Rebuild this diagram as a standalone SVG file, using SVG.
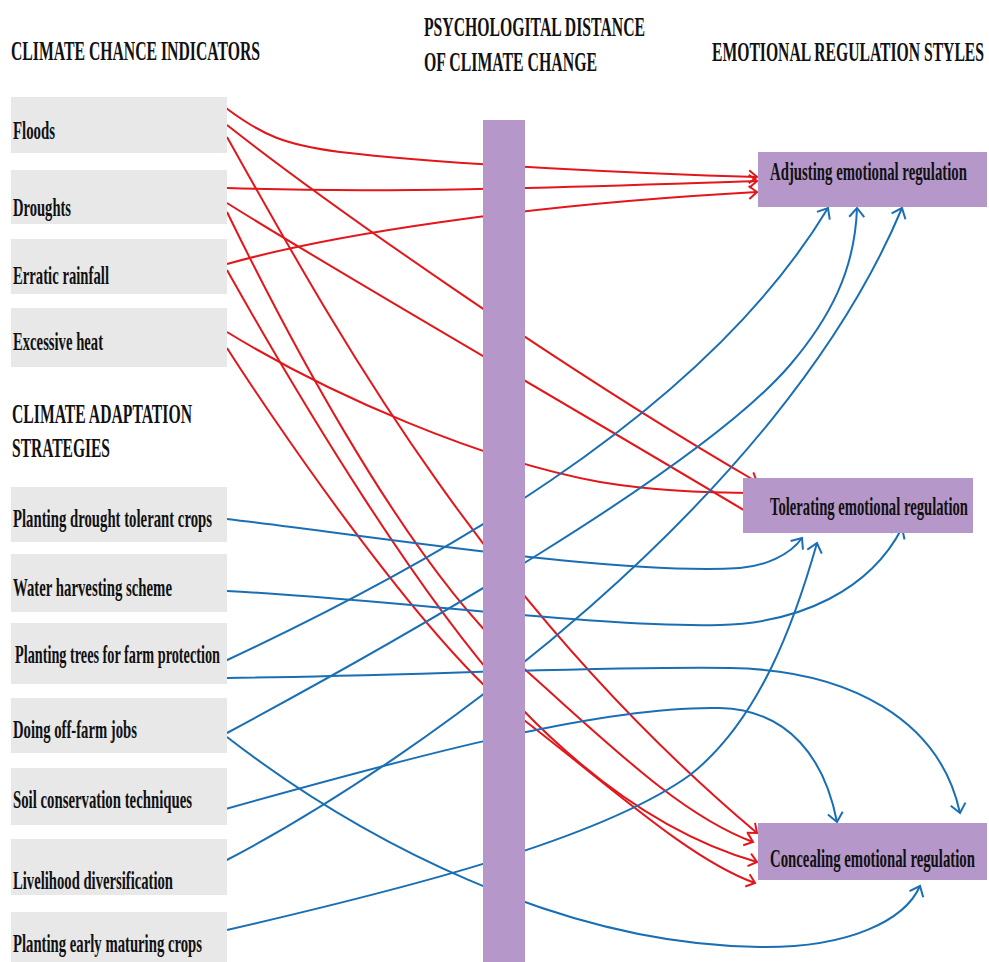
<svg xmlns="http://www.w3.org/2000/svg" width="989" height="962" viewBox="0 0 989 962">
<style>
text { font-family: "Liberation Serif", "Times New Roman", serif; font-weight: bold; fill: #111; }
.hdr { font-size: 28px; }
.lbl { font-size: 25px; }
.gbox { fill: #e8e8e8; }
.pbox { fill: #b597c9; }
.red { fill: none; stroke: #e3161b; stroke-width: 2; marker-end: url(#ar); }
.blue { fill: none; stroke: #1a6fb4; stroke-width: 2; marker-end: url(#ab); }
</style>
<defs>
<marker id="ar" markerUnits="userSpaceOnUse" markerWidth="14" markerHeight="16" refX="11" refY="8" orient="auto"><path d="M3,1.5 L11,8 L3,14.5" fill="none" stroke="#e3161b" stroke-width="2"/></marker>
<marker id="ab" markerUnits="userSpaceOnUse" markerWidth="14" markerHeight="18" refX="11" refY="9" orient="auto"><path d="M2,1.5 L11,9 L2,16.5" fill="none" stroke="#1a6fb4" stroke-width="2"/></marker>
</defs>
<rect width="989" height="962" fill="#ffffff"/>

<g id="headers">
<text class="hdr" transform="translate(11,60) scale(0.7,1)" textLength="355.7" lengthAdjust="spacingAndGlyphs">CLIMATE CHANCE INDICATORS</text>
<text class="hdr" transform="translate(424,36) scale(0.7,1)" textLength="315.7" lengthAdjust="spacingAndGlyphs">PSYCHOLOGITAL DISTANCE</text>
<text class="hdr" transform="translate(424,71) scale(0.7,1)" textLength="247.1" lengthAdjust="spacingAndGlyphs">OF CLIMATE CHANGE</text>
<text class="hdr" transform="translate(712,61) scale(0.56,1)" textLength="485.7" lengthAdjust="spacingAndGlyphs">EMOTIONAL REGULATION STYLES</text>
<text class="hdr" transform="translate(12,423) scale(0.7,1)" textLength="257.1" lengthAdjust="spacingAndGlyphs">CLIMATE ADAPTATION</text>
<text class="hdr" transform="translate(12,457) scale(0.7,1)" textLength="140" lengthAdjust="spacingAndGlyphs">STRATEGIES</text>
</g>

<g id="connectors">
<path class="red" d="M226,108 C262,135 285,145 340,152 C450,165 650,174 757,177"/>
<path class="red" d="M227,188 C400,194 600,186 757,181"/>
<path class="red" d="M227,264 C330,235 520,205 757,192"/>
<path class="red" d="M227,125 C325,202 560,368 757,482"/>
<path class="red" d="M227,203 C330,268 560,400 757,518"/>
<path class="red" d="M227,332 C330,395 480,460 600,482 C660,492 720,493 757,493"/>
<path class="red" d="M227,137 C330,320 480,600 757,833"/>
<path class="red" d="M227,212 C270,300 400,560 520,665 C610,745 680,815 753,842"/>
<path class="red" d="M227,270 C300,400 420,600 520,707 C600,790 680,840 757,862"/>
<path class="red" d="M227,348 C260,400 420,640 520,717 C610,786 690,860 755,883"/>
<path class="blue" d="M227,519 C400,540 620,575 740,568 C765,566 790,555 802,538"/>
<path class="blue" d="M227,591 C400,600 600,628 720,625 C800,623 870,590 902,528"/>
<path class="blue" d="M223,662 C420,570 700,420 828,208"/>
<path class="blue" d="M227,678 C400,676 600,666 730,668 C850,670 940,720 960,813"/>
<path class="blue" d="M227,733 C400,640 700,470 790,365 C830,318 855,270 857,208"/>
<path class="blue" d="M227,737 C360,840 560,945 760,947 C850,948 905,920 920,886"/>
<path class="blue" d="M222,810 C400,760 600,705 720,708 C790,710 825,760 837,822"/>
<path class="blue" d="M223,862 C420,760 780,500 902,208"/>
<path class="blue" d="M227,930 C400,890 600,840 690,775 C760,720 795,620 817,543"/>
</g>

<g id="distance-bar"><rect class="pbox" x="483" y="120" width="42" height="842"/></g>

<g id="floods"><rect class="gbox" x="11" y="97" width="216" height="56"/><text class="lbl" transform="translate(13,139) scale(0.7,1)" textLength="60" lengthAdjust="spacingAndGlyphs">Floods</text></g>
<g id="droughts"><rect class="gbox" x="11" y="170" width="216" height="54"/><text class="lbl" transform="translate(13,216) scale(0.7,1)" textLength="82.9" lengthAdjust="spacingAndGlyphs">Droughts</text></g>
<g id="erratic-rainfall"><rect class="gbox" x="11" y="239" width="216" height="55"/><text class="lbl" transform="translate(13,284) scale(0.7,1)" textLength="137.1" lengthAdjust="spacingAndGlyphs">Erratic rainfall</text></g>
<g id="excessive-heat"><rect class="gbox" x="11" y="308" width="216" height="59"/><text class="lbl" transform="translate(13,350) scale(0.7,1)" textLength="128.6" lengthAdjust="spacingAndGlyphs">Excessive heat</text></g>

<g id="drought-tolerant"><rect class="gbox" x="11" y="487" width="216" height="55"/><text class="lbl" transform="translate(13,527) scale(0.7,1)" textLength="284.3" lengthAdjust="spacingAndGlyphs">Planting drought tolerant crops</text></g>
<g id="water-harvesting"><rect class="gbox" x="11" y="554" width="216" height="58"/><text class="lbl" transform="translate(13,596) scale(0.7,1)" textLength="227.1" lengthAdjust="spacingAndGlyphs">Water harvesting scheme</text></g>
<g id="planting-trees"><rect class="gbox" x="11" y="623" width="216" height="61"/><text class="lbl" transform="translate(15,663) scale(0.7,1)" textLength="292.9" lengthAdjust="spacingAndGlyphs">Planting trees for farm protection</text></g>
<g id="off-farm"><rect class="gbox" x="11" y="698" width="216" height="55"/><text class="lbl" transform="translate(13,738) scale(0.7,1)" textLength="177.1" lengthAdjust="spacingAndGlyphs">Doing off-farm jobs</text></g>
<g id="soil-conservation"><rect class="gbox" x="11" y="768" width="216" height="57"/><text class="lbl" transform="translate(13,808) scale(0.7,1)" textLength="255.7" lengthAdjust="spacingAndGlyphs">Soil conservation techniques</text></g>
<g id="livelihood"><rect class="gbox" x="11" y="839" width="216" height="56"/><text class="lbl" transform="translate(13,889) scale(0.7,1)" textLength="228.6" lengthAdjust="spacingAndGlyphs">Livelihood diversification</text></g>
<g id="early-maturing"><rect class="gbox" x="11" y="912" width="216" height="50"/><text class="lbl" transform="translate(13,952) scale(0.7,1)" textLength="270" lengthAdjust="spacingAndGlyphs">Planting early maturing crops</text></g>

<g id="adjusting"><rect class="pbox" x="758" y="152" width="229" height="55"/><text class="lbl" transform="translate(770,180) scale(0.59,1)" textLength="333.9" lengthAdjust="spacingAndGlyphs">Adjusting emotional regulation</text></g>
<g id="tolerating"><rect class="pbox" x="743" y="478" width="230" height="55"/><text class="lbl" transform="translate(770,515) scale(0.59,1)" textLength="335.6" lengthAdjust="spacingAndGlyphs">Tolerating emotional regulation</text></g>
<g id="concealing"><rect class="pbox" x="758" y="823" width="229" height="57"/><text class="lbl" transform="translate(770,867) scale(0.58,1)" textLength="353.4" lengthAdjust="spacingAndGlyphs">Concealing emotional regulation</text></g>
</svg>
